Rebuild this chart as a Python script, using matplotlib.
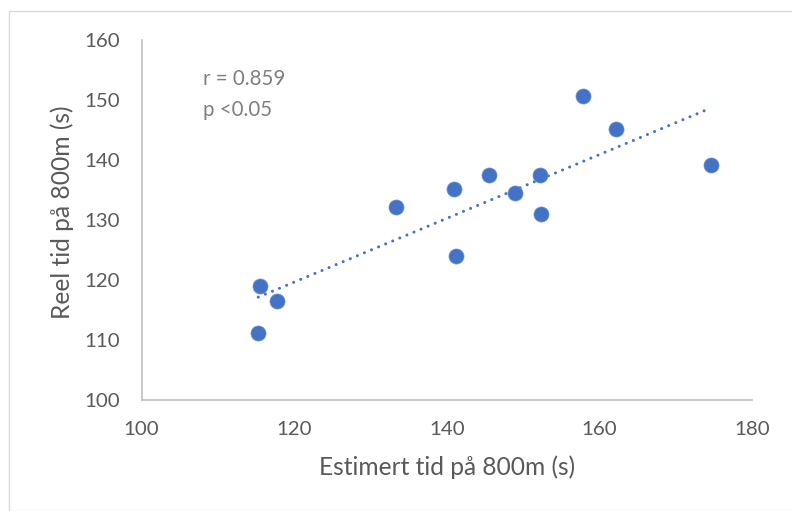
import numpy as np
import matplotlib
matplotlib.use("Agg")
import matplotlib.pyplot as plt
from matplotlib.patches import Rectangle

estimated = [115.5, 117.7, 115.3, 133.3, 140.9, 145.5, 141.2, 148.9, 152.2, 152.3, 157.8, 162.2, 174.6]
actual = [119.0, 116.4, 111.1, 132.1, 135.1, 137.4, 124.0, 134.4, 137.4, 130.9, 150.7, 145.2, 139.2]
x_ticks = [100, 120, 140, 160, 180]
y_ticks = [100, 110, 120, 130, 140, 150, 160]
annot = ["r = 0.859", "p <0.05"]

plt.rcParams['font.family'] = ['Lato', 'DejaVu Sans']

W, H = 792, 511
fig = plt.figure(figsize=(W / 100, H / 100), dpi=100)
renderer = fig.canvas.get_renderer()


def fit_size(text, target_px, base=14.0):
    t = fig.text(0, 0, text, fontsize=base)
    bb = t.get_window_extent(renderer)
    t.remove()
    return base * target_px / bb.width


tick_fs = fit_size("160", 35.5)
xlab_fs = fit_size("Estimert tid på 800m (s)", 257)
ylab_fs = fit_size("Reel tid på 800m (s)", 215)
ann_fs = fit_size(annot[0], 83)

fig.patches.append(Rectangle((8.5 / W, 0), 1, 1 - 11.5 / H, transform=fig.transFigure,
                             fill=False, edgecolor='#d9d9d9', linewidth=1.0))
ax = fig.add_axes([141.5 / W, 111.5 / H, (752 - 141.5) / W, (399.5 - 40) / H])

ax.scatter(estimated, actual, s=118, color='#4472C4', edgecolors='#6f93d6', linewidths=0.5, zorder=3)

x = np.array(estimated)
y = np.array(actual)
m, b = np.polyfit(x, y, 1)
xs = np.array([x.min(), x.max()])
ax.plot(xs, m * xs + b, color='#4472C4', linewidth=2.2, linestyle=(0, (0.01, 2.5)),
        dash_capstyle='round', zorder=2)

ax.set_xlim(100, 180)
ax.set_ylim(100, 160)
ax.set_xticks(x_ticks)
ax.set_yticks(y_ticks)
ax.tick_params(length=0, labelsize=tick_fs, colors='#595959')
ax.tick_params(axis='y', pad=15.5)
ax.tick_params(axis='x', pad=21.5)
plt.setp(ax.get_xticklabels(), va='center')
for s in ['top', 'right']:
    ax.spines[s].set_visible(False)
for s in ['left', 'bottom']:
    ax.spines[s].set_color('#bfbfbf')
    ax.spines[s].set_linewidth(1.2)

ax.set_xlabel("Estimert tid på 800m (s)", fontsize=xlab_fs, color='#595959', va='center')
ax.set_ylabel("Reel tid på 800m (s)", fontsize=ylab_fs, color='#595959', va='center')
ax.xaxis.set_label_coords(447.5 / W, 1 - 467 / H, transform=fig.transFigure)
ax.yaxis.set_label_coords(62 / W, 1 - 212 / H, transform=fig.transFigure)

ax.text(203 / W, 1 - 85 / H, annot[0], transform=fig.transFigure, fontsize=ann_fs,
        color='#7f7f7f', va='baseline', ha='left')
ax.text(203 / W, 1 - 116 / H, annot[1], transform=fig.transFigure, fontsize=ann_fs,
        color='#7f7f7f', va='baseline', ha='left')

fig.savefig("out.png", dpi=100)
